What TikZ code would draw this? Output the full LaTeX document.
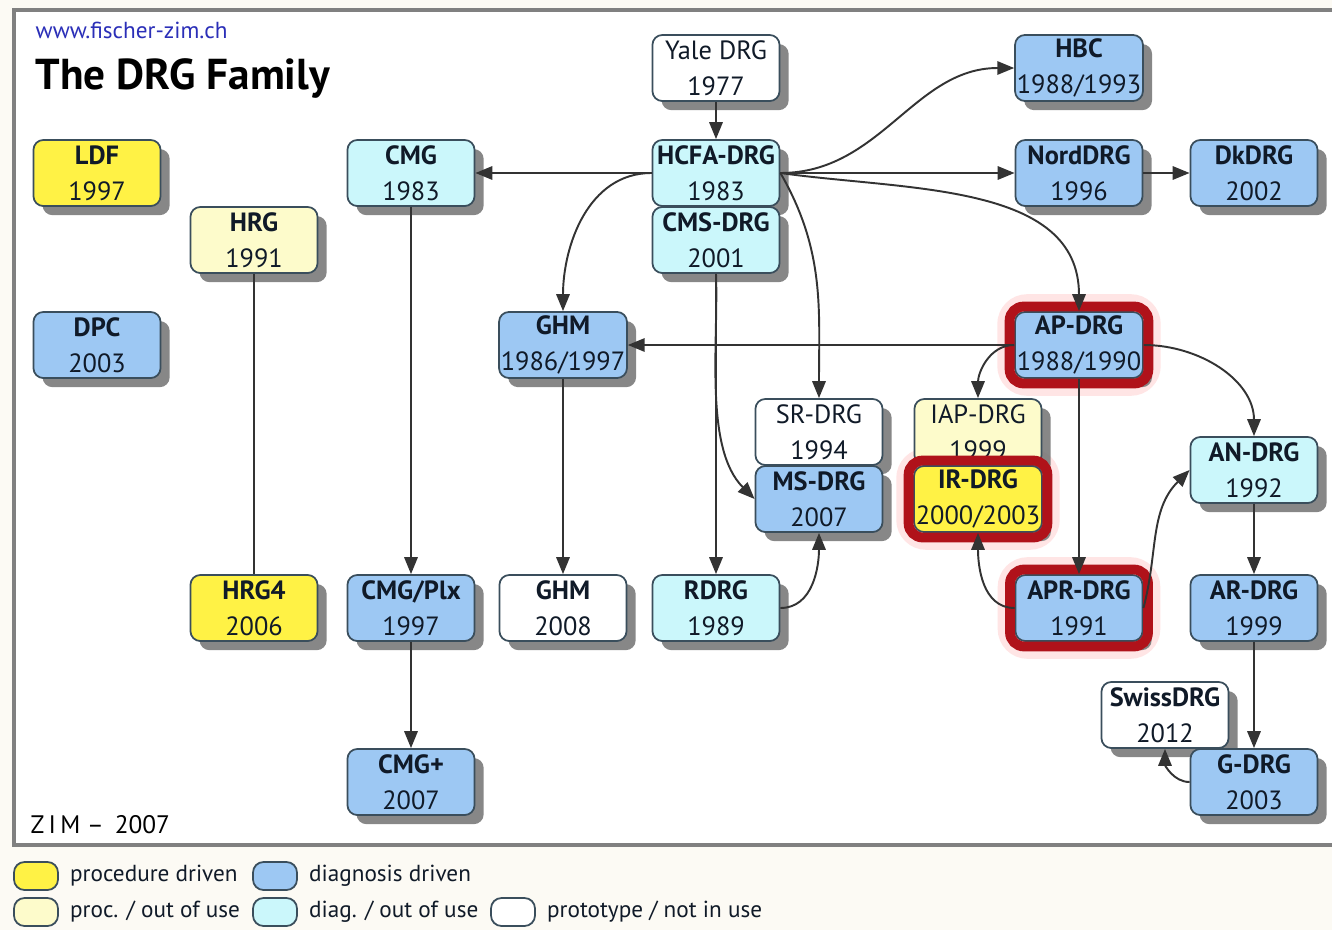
\documentclass[tikz,border=0pt]{standalone}
\usepackage{fontspec}
\setmainfont{PT Sans}
\usetikzlibrary{arrows.meta,shadows,fit,backgrounds}

\definecolor{procyel}{HTML}{FFF245}
\definecolor{procold}{HTML}{FDFBCB}
\definecolor{diagblue}{HTML}{9DC8F3}
\definecolor{diagold}{HTML}{CBF7FB}
\definecolor{boxline}{HTML}{3A4E5C}
\definecolor{boxtext}{HTML}{101A28}
\definecolor{zimred}{HTML}{B0121A}
\definecolor{zimblue}{HTML}{2B2FB8}
\definecolor{paper}{HTML}{FCFAF4}

\newcommand{\drgname}[2]{\textbf{#1}\\#2}

\tikzset{
  drg/.style={draw=boxline, line width=0.5pt, rounded corners=2.8pt,
    minimum width=1.27cm, minimum height=0.66cm, inner sep=0.5pt,
    align=center, text=boxtext, font=\fontsize{7.5}{10.2}\selectfont,
    drop shadow={shadow xshift=2.6pt, shadow yshift=-2.6pt,
      fill=black!55, opacity=0.85}},
  procbox/.style={drg, fill=procyel},
  procoldbox/.style={drg, fill=procold},
  diagbox/.style={drg, fill=diagblue},
  diagoldbox/.style={drg, fill=diagold},
  protobox/.style={drg, fill=white},
  link/.style={draw=black!80, line width=0.55pt,
    -{Triangle[length=4.8pt,width=3.8pt]}},
  plain/.style={draw=black!80, line width=0.55pt},
  hilite/.style={draw=zimred, line width=2.8pt, rounded corners=4pt,
    inner sep=1.3pt},
  glow/.style={draw=red!40, line width=7pt, rounded corners=5pt,
    opacity=0.25, inner sep=1.3pt},
  legbox/.style={draw=boxline, line width=0.5pt, rounded corners=3pt,
    minimum width=0.44cm, minimum height=0.28cm, inner sep=0pt},
  legtext/.style={anchor=west, inner sep=0pt, text=boxtext,
    font=\fontsize{6.6}{8}\selectfont}
}

\begin{document}
\begin{tikzpicture}[x=0.01cm,y=0.01cm]
\useasboundingbox (0,0) rectangle (1332,-930);
\begin{scope}[on background layer]
 \fill[paper] (0,0) rectangle (1332,-930);
 \draw[black!50, line width=1pt, fill=white] (14,-10) rectangle (1345,-845);
\end{scope}

% header
\node[anchor=base west, inner sep=0, text=zimblue,
  font=\fontsize{6.6}{8}\selectfont] (url) at (35,-38) {www.fischer-zim.ch};
\node[anchor=base west, inner sep=0,
  font=\bfseries\fontsize{12.3}{14}\selectfont] (title) at (35,-89) {The DRG Family};
\node[anchor=base west, inner sep=0,
  font=\fontsize{7.2}{8}\selectfont] (zim) at (30,-833) {Z\,I\,M -- \,2007};

% drg boxes
\node[protobox] (yale) at (716,-68) {Yale DRG\\1977};
\node[diagoldbox] (hcfa) at (716,-173) {\drgname{HCFA-DRG}{1983}};
\node[diagoldbox] (cms) at (716,-240) {\drgname{CMS-DRG}{2001}};
\node[diagoldbox] (cmg) at (411,-173) {\drgname{CMG}{1983}};
\node[procbox] (ldf) at (97,-173) {\drgname{LDF}{1997}};
\node[procoldbox] (hrg) at (254,-240) {\drgname{HRG}{1991}};
\node[diagbox] (dpc) at (97,-345) {\drgname{DPC}{2003}};
\node[diagbox] (hbc) at (1079,-68) {\drgname{HBC}{1988/1993}};
\node[diagbox] (nord) at (1079,-173) {\drgname{NordDRG}{1996}};
\node[diagbox] (dk) at (1254,-173) {\drgname{DkDRG}{2002}};
\node[diagbox] (ghm) at (563,-345) {\drgname{GHM}{1986/1997}};
\node[diagbox] (ap) at (1079,-345) {\drgname{AP-DRG}{1988/1990}};
\node[protobox] (sr) at (819,-432) {SR-DRG\\1994};
\node[diagbox] (ms) at (819,-499) {\drgname{MS-DRG}{2007}};
\node[procoldbox] (iap) at (978,-432) {IAP-DRG\\1999};
\node[procbox] (ir) at (978,-499) {\drgname{IR-DRG}{2000/2003}};
\node[diagoldbox] (an) at (1254,-470) {\drgname{AN-DRG}{1992}};
\node[procbox] (hrg4) at (254,-608) {\drgname{HRG4}{2006}};
\node[diagbox] (cmgplx) at (411,-608) {\drgname{CMG/Plx}{1997}};
\node[protobox] (ghm08) at (563,-608) {\drgname{GHM}{2008}};
\node[diagoldbox] (rdrg) at (716,-608) {\drgname{RDRG}{1989}};
\node[diagbox] (apr) at (1079,-608) {\drgname{APR-DRG}{1991}};
\node[diagbox] (ar) at (1254,-608) {\drgname{AR-DRG}{1999}};
\node[protobox] (swiss) at (1165,-715) {\drgname{SwissDRG}{2012}};
\node[diagbox] (gdrg) at (1254,-782) {\drgname{G-DRG}{2003}};
\node[diagbox] (cmgplus) at (411,-782) {\drgname{CMG+}{2007}};

% red frames
\begin{scope}[on background layer]
 \foreach \n in {ap,ir,apr}
  \node[glow, fit=(\n)] (glow-\n) {};
\end{scope}
\foreach \n in {ap,ir,apr}
 \node[hilite, fit=(\n)] (frame-\n) {};

% links
\draw[link] (yale) -- (hcfa);
\draw[link] (hcfa) -- (cmg);
\draw[link] (hcfa.west) to[out=180,in=90] (ghm);
\draw[link] (hcfa.east) to[out=0,in=180] (hbc);
\draw[link] (hcfa) -- (nord);
\draw[link] (nord) -- (dk);
\draw[link] (hcfa.east) to[out=-8,in=90] (ap);
\draw[link] (hcfa.east) to[out=-60,in=90] (sr);
\draw[link] (cms) -- (rdrg);
\draw[link] (cms.south) to[out=-88,in=135,looseness=0.8] (ms.west);
\draw[link] (rdrg.east) to[out=0,in=-90] (ms);
\draw[link] (ap) -- (ghm);
\draw[link] (ap.west) to[out=180,in=90] (iap);
\draw[link] (ap) -- (apr);
\draw[link] (ap.east) to[out=0,in=90] (an);
\draw[link] (apr.west) to[out=180,in=-90] (ir);
\draw[link] (apr.east) to[out=75,in=225] (an.west);
\draw[link] (an) -- (ar);
\draw[link] (ar) -- (gdrg);
\draw[link] (gdrg.west) to[out=180,in=-90] (swiss);
\draw[link] (cmg) -- (cmgplx);
\draw[link] (cmgplx) -- (cmgplus);
\draw[plain] (hrg) -- (hrg4);
\draw[link] (ghm) -- (ghm08);

% legend
\node[legbox, fill=procyel] (leg1) at (36,-876) {};
\node[legtext] (legt1) at ([xshift=3pt]leg1.east) {procedure driven};
\node[legbox, fill=diagblue] (leg2) at (275,-876) {};
\node[legtext] (legt2) at ([xshift=3pt]leg2.east) {diagnosis driven};
\node[legbox, fill=procold] (leg3) at (36,-912) {};
\node[legtext] (legt3) at ([xshift=3pt]leg3.east) {proc. / out of use};
\node[legbox, fill=diagold] (leg4) at (275,-912) {};
\node[legtext] (legt4) at ([xshift=3pt]leg4.east) {diag. / out of use};
\node[legbox, fill=white] (leg5) at (513,-912) {};
\node[legtext] (legt5) at ([xshift=3pt]leg5.east) {prototype / not in use};
\end{tikzpicture}
\end{document}
